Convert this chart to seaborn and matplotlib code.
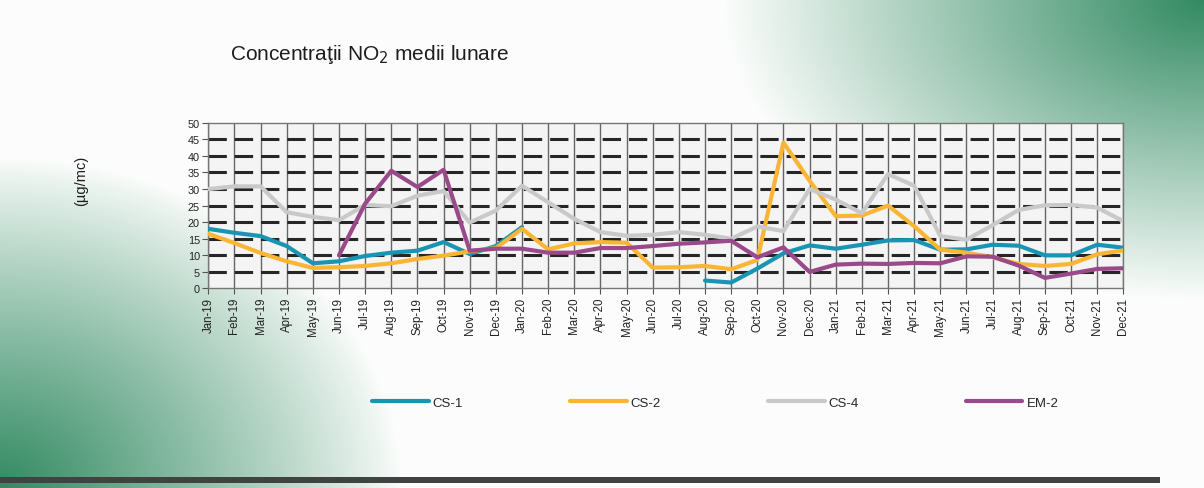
import numpy as np
import pandas as pd
import matplotlib
matplotlib.use("Agg")
import matplotlib.pyplot as plt
from matplotlib.lines import Line2D
import seaborn as sns

# ---------------- data ----------------
months = ["Jan-19", "Feb-19", "Mar-19", "Apr-19", "May-19", "Jun-19", "Jul-19", "Aug-19",
          "Sep-19", "Oct-19", "Nov-19", "Dec-19",
          "Jan-20", "Feb-20", "Mar-20", "Apr-20", "May-20", "Jun-20", "Jul-20", "Aug-20",
          "Sep-20", "Oct-20", "Nov-20", "Dec-20",
          "Jan-21", "Feb-21", "Mar-21", "Apr-21", "May-21", "Jun-21", "Jul-21", "Aug-21",
          "Sep-21", "Oct-21", "Nov-21", "Dec-21"]
nan = np.nan
cs1 = [18.0, 16.8, 15.8, 12.8, 7.6, 8.2, 9.8, 10.8, 11.4, 14.0, 10.4, 12.8,
       18.5, nan, nan, nan, nan, nan, nan, 2.4, 1.8, 6.0, 10.6, 13.0,
       12.0, 13.2, 14.5, 14.6, 11.7, 11.8, 13.2, 12.9, 10.0, 10.0, 13.2, 12.3]
cs2 = [16.5, 13.7, 10.7, 8.2, 6.2, 6.4, 6.8, 7.6, 8.9, 9.9, 11.2, 12.2,
       18.0, 11.8, 13.6, 14.0, 13.8, 6.3, 6.4, 6.8, 5.8, 8.6, 44.0, 32.5,
       21.8, 22.0, 25.0, 18.8, 11.7, 10.8, 9.4, 7.4, 6.8, 7.4, 10.3, 11.5]
cs4 = [30.0, 30.8, 30.8, 23.0, 21.6, 20.6, 25.2, 24.8, 28.0, 29.4, 19.9, 23.5,
       31.0, 26.0, 21.0, 17.0, 15.9, 16.2, 17.0, 16.2, 15.0, 18.7, 17.3, 30.0,
       26.8, 22.7, 34.5, 31.0, 15.8, 14.7, 19.1, 23.7, 25.1, 25.2, 24.4, 20.3]
em2 = [nan, nan, nan, nan, nan, 10.0, 25.6, 35.5, 30.6, 35.8, 11.4, 12.0,
       12.0, 10.8, 10.8, 12.2, 12.2, 12.8, 13.5, 13.9, 14.4, 9.4, 12.4, 5.0,
       7.2, 7.5, 7.4, 7.7, 7.6, 9.7, 9.6, 6.9, 3.2, 4.5, 5.9, 6.1]
stations = ["CS-1", "CS-2", "CS-4", "EM-2"]
yticks = [0, 5, 10, 15, 20, 25, 30, 35, 40, 45, 50]
title = "Concentraţii NO$_2$ medii lunare"
ylabel = "(µg/mc)"

colors = {"CS-1": "#1995b3", "CS-2": "#f9b533", "CS-4": "#c9c9c9", "EM-2": "#9a4a8a"}

# ---------- long table with segment ids (breaks at missing months) ----------
rows = []
for name, vals in zip(stations, [cs1, cs2, cs4, em2]):
    seg = 0
    prev_ok = False
    for i, v in enumerate(vals):
        ok = not np.isnan(v)
        if ok and not prev_ok:
            seg += 1
        if ok:
            rows.append({"idx": i, "value": v, "station": name, "seg": f"{name}_{seg}"})
        prev_ok = ok
df = pd.DataFrame(rows)

# ---------------- figure ----------------
sns.set_theme(style="white")
plt.rcParams["font.family"] = ["Liberation Sans", "DejaVu Sans"]

W, H = 1204, 489
fig = plt.figure(figsize=(W / 100, H / 100), dpi=100)

# background with green corner gradients (scan look)
yy, xx = np.mgrid[0:H, 0:W].astype(float)
r1 = np.sqrt(((W - xx) / 480) ** 2 + (yy / 300) ** 2)
w1 = np.clip(1 - r1, 0, 1) ** 1.0
r2 = np.sqrt((xx / 400) ** 2 + ((H - yy) / 330) ** 2)
w2 = np.clip(1 - r2, 0, 1) ** 0.9
w = np.clip(w1 + w2, 0, 1)[..., None]
green = np.array([50, 138, 98]) / 255.0
white = np.array([0.985, 0.99, 0.985])
bg = white * (1 - w) + green * w
bg[478:484, :1160] = np.array([0.25, 0.27, 0.26])
bax = fig.add_axes([0, 0, 1, 1], zorder=-10)
bax.imshow(bg, aspect="auto", extent=[0, 1, 0, 1])
bax.axis("off")

ax = fig.add_axes([0.173, 0.408, 0.76, 0.339])
ax.set_facecolor("#f4f4f4")

sns.lineplot(data=df, x="idx", y="value", hue="station", units="seg", estimator=None,
             palette=colors, hue_order=stations, linewidth=3.0, legend=False, ax=ax,
             zorder=3)

ax.set_xlim(0, len(months) - 1)
ax.set_ylim(0, 50)
ax.set_xticks(range(len(months)))
ax.set_xticklabels(months, rotation=90, fontsize=8.3, color="#222222")
ax.set_yticks(yticks)
ax.set_yticklabels([str(t) for t in yticks], fontsize=7.8, color="#222222")
ax.set_xlabel("")
ax.set_ylabel("")

# grid: solid verticals, thick dashed horizontals
for i in range(len(months)):
    ax.axvline(i, color="#666666", lw=1.0, zorder=1)
for t in yticks[1:-1]:
    ax.axhline(t, color="#262626", lw=2.2, linestyle=(0, (6, 2.6)), zorder=2)

for s in ax.spines.values():
    s.set_color("#777777")
    s.set_linewidth(1.0)
ax.tick_params(axis="both", which="major", length=4, width=0.8, color="#555555",
               direction="out", pad=2, bottom=True, left=True)

fig.text(0.191, 0.889, title, fontsize=15, color="#1e1e1e", ha="left", va="center")
fig.text(0.067, 0.63, ylabel, fontsize=10.5, color="#1e1e1e", rotation=90,
         ha="center", va="center")

handles = [Line2D([0], [0], color=colors[s], lw=3.0) for s in stations]
fig.legend(handles, stations, loc="center", bbox_to_anchor=(0.594, 0.174), ncol=4,
           frameon=False, fontsize=9.5, handlelength=4.3, handletextpad=0.3,
           columnspacing=8.1)

fig.savefig("out.png", dpi=100)
